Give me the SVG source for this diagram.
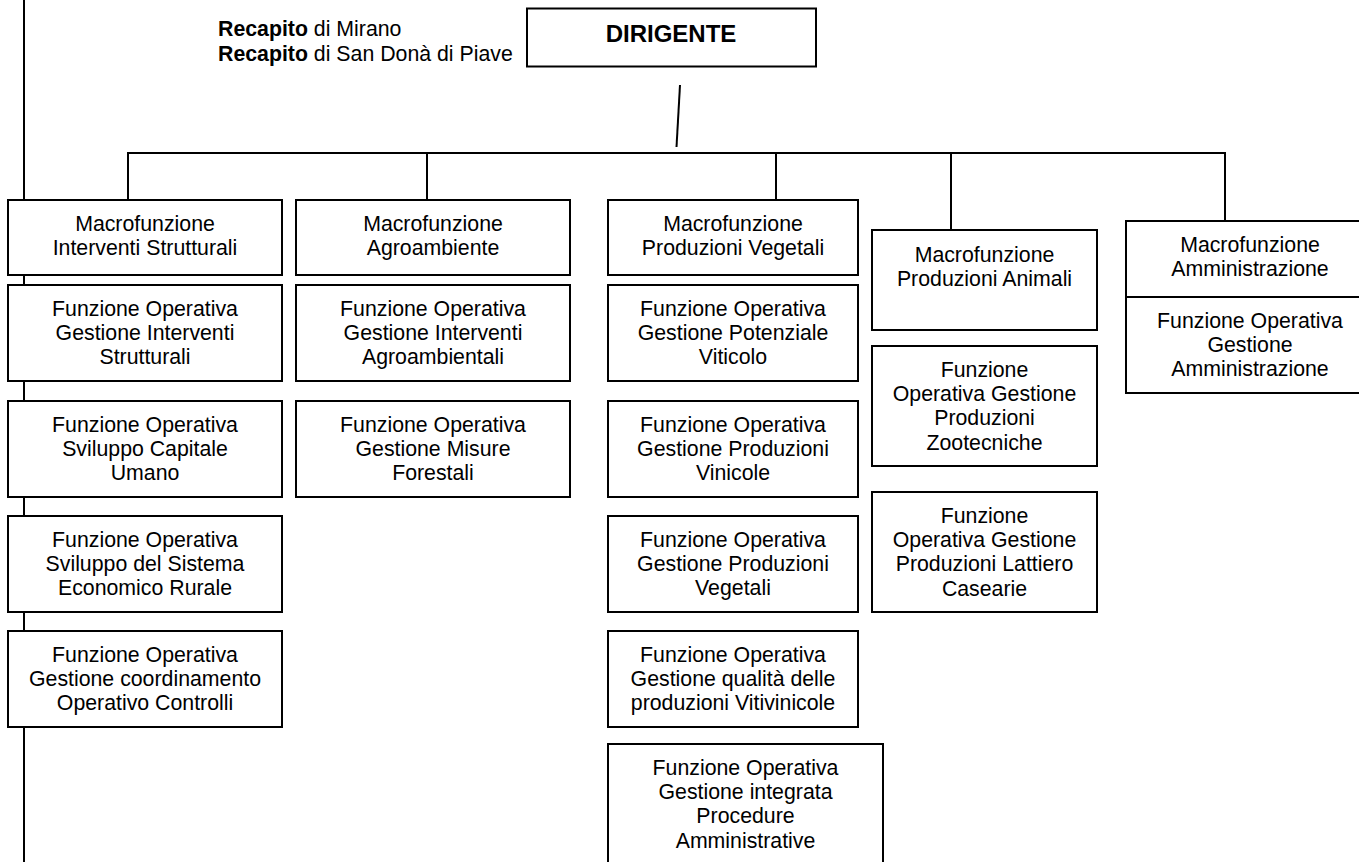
<svg xmlns="http://www.w3.org/2000/svg" width="1359" height="862" viewBox="0 0 1359 862">
  <style>
    .box { fill: #ffffff; stroke: #000000; stroke-width: 2; }
    .line { fill: none; stroke: #000000; stroke-width: 2; }
    .lbl { font-family: "Liberation Sans", Arial, sans-serif; font-size: 21.3px; fill: #000000; text-anchor: middle; }
    .title { font-family: "Liberation Sans", Arial, sans-serif; font-size: 24px; font-weight: bold; fill: #000000; text-anchor: middle; }
    .note { font-family: "Liberation Sans", Arial, sans-serif; font-size: 21.3px; fill: #000000; }
    .b { font-weight: bold; }
  </style>
  <rect x="0" y="0" width="1359" height="862" fill="#ffffff"/>

  <!-- connectors -->
  <g id="connectors">
    <line class="line" x1="24" y1="0" x2="24" y2="862"/>
    <line class="line" x1="680" y1="85" x2="676.5" y2="147" stroke-width="1.6"/>
    <line class="line" x1="127" y1="153" x2="1226" y2="153"/>
    <line class="line" x1="128" y1="153" x2="128" y2="200"/>
    <line class="line" x1="427" y1="153" x2="427" y2="200"/>
    <line class="line" x1="776" y1="153" x2="776" y2="200"/>
    <line class="line" x1="951" y1="153" x2="951" y2="230"/>
    <line class="line" x1="1225" y1="153" x2="1225" y2="221"/>
  </g>

  <!-- side note -->
  <g id="recapiti">
    <text class="note" x="218" y="35.5"><tspan class="b">Recapito</tspan> di Mirano</text>
    <text class="note" x="218" y="61"><tspan class="b">Recapito</tspan> di San Donà di Piave</text>
  </g>

  <!-- top -->
  <g id="dirigente">
    <rect class="box" x="527" y="8.5" width="289" height="58"/>
    <text class="title" x="671" y="41.5">DIRIGENTE</text>
  </g>

  <!-- column 1 -->
  <g id="macro-interventi">
    <rect class="box" x="8" y="200" width="274" height="75"/>
    <text class="lbl" x="145" y="230.5"><tspan x="145">Macrofunzione</tspan><tspan x="145" dy="24.4">Interventi Strutturali</tspan></text>
  </g>
  <g id="fo-gestione-interventi">
    <rect class="box" x="8" y="285" width="274" height="96"/>
    <text class="lbl" x="145" y="315.5"><tspan x="145">Funzione Operativa</tspan><tspan x="145" dy="24.4">Gestione Interventi</tspan><tspan x="145" dy="24.4">Strutturali</tspan></text>
  </g>
  <g id="fo-capitale-umano">
    <rect class="box" x="8" y="401" width="274" height="96"/>
    <text class="lbl" x="145" y="431.5"><tspan x="145">Funzione Operativa</tspan><tspan x="145" dy="24.4">Sviluppo Capitale</tspan><tspan x="145" dy="24.4">Umano</tspan></text>
  </g>
  <g id="fo-sistema-rurale">
    <rect class="box" x="8" y="516" width="274" height="96"/>
    <text class="lbl" x="145" y="546.5"><tspan x="145">Funzione Operativa</tspan><tspan x="145" dy="24.4">Sviluppo del Sistema</tspan><tspan x="145" dy="24.4">Economico Rurale</tspan></text>
  </g>
  <g id="fo-controlli">
    <rect class="box" x="8" y="631" width="274" height="96"/>
    <text class="lbl" x="145" y="661.5"><tspan x="145">Funzione Operativa</tspan><tspan x="145" dy="24.4">Gestione coordinamento</tspan><tspan x="145" dy="24.4">Operativo Controlli</tspan></text>
  </g>

  <!-- column 2 -->
  <g id="macro-agroambiente">
    <rect class="box" x="296" y="200" width="274" height="75"/>
    <text class="lbl" x="433" y="230.5"><tspan x="433">Macrofunzione</tspan><tspan x="433" dy="24.4">Agroambiente</tspan></text>
  </g>
  <g id="fo-agroambientali">
    <rect class="box" x="296" y="285" width="274" height="96"/>
    <text class="lbl" x="433" y="315.5"><tspan x="433">Funzione Operativa</tspan><tspan x="433" dy="24.4">Gestione Interventi</tspan><tspan x="433" dy="24.4">Agroambientali</tspan></text>
  </g>
  <g id="fo-forestali">
    <rect class="box" x="296" y="401" width="274" height="96"/>
    <text class="lbl" x="433" y="431.5"><tspan x="433">Funzione Operativa</tspan><tspan x="433" dy="24.4">Gestione Misure</tspan><tspan x="433" dy="24.4">Forestali</tspan></text>
  </g>

  <!-- column 3 -->
  <g id="macro-vegetali">
    <rect class="box" x="608" y="200" width="250" height="75"/>
    <text class="lbl" x="733" y="230.5"><tspan x="733">Macrofunzione</tspan><tspan x="733" dy="24.4">Produzioni Vegetali</tspan></text>
  </g>
  <g id="fo-potenziale-viticolo">
    <rect class="box" x="608" y="285" width="250" height="96"/>
    <text class="lbl" x="733" y="315.5"><tspan x="733">Funzione Operativa</tspan><tspan x="733" dy="24.4">Gestione Potenziale</tspan><tspan x="733" dy="24.4">Viticolo</tspan></text>
  </g>
  <g id="fo-vinicole">
    <rect class="box" x="608" y="401" width="250" height="96"/>
    <text class="lbl" x="733" y="431.5"><tspan x="733">Funzione Operativa</tspan><tspan x="733" dy="24.4">Gestione Produzioni</tspan><tspan x="733" dy="24.4">Vinicole</tspan></text>
  </g>
  <g id="fo-prod-vegetali">
    <rect class="box" x="608" y="516" width="250" height="96"/>
    <text class="lbl" x="733" y="546.5"><tspan x="733">Funzione Operativa</tspan><tspan x="733" dy="24.4">Gestione Produzioni</tspan><tspan x="733" dy="24.4">Vegetali</tspan></text>
  </g>
  <g id="fo-vitivinicole">
    <rect class="box" x="608" y="631" width="250" height="96"/>
    <text class="lbl" x="733" y="661.5"><tspan x="733">Funzione Operativa</tspan><tspan x="733" dy="24.4">Gestione qualità delle</tspan><tspan x="733" dy="24.4">produzioni Vitivinicole</tspan></text>
  </g>
  <g id="fo-procedure">
    <rect class="box" x="608" y="744" width="275" height="140"/>
    <text class="lbl" x="745.5" y="774.5"><tspan x="745.5">Funzione Operativa</tspan><tspan x="745.5" dy="24.4">Gestione integrata</tspan><tspan x="745.5" dy="24.4">Procedure</tspan><tspan x="745.5" dy="24.4">Amministrative</tspan></text>
  </g>

  <!-- column 4 -->
  <g id="macro-animali">
    <rect class="box" x="872" y="230" width="225" height="100"/>
    <text class="lbl" x="984.5" y="261.5"><tspan x="984.5">Macrofunzione</tspan><tspan x="984.5" dy="24.4">Produzioni Animali</tspan></text>
  </g>
  <g id="fo-zootecniche">
    <rect class="box" x="872" y="346" width="225" height="120"/>
    <text class="lbl" x="984.5" y="376.5"><tspan x="984.5">Funzione</tspan><tspan x="984.5" dy="24.4">Operativa Gestione</tspan><tspan x="984.5" dy="24.4">Produzioni</tspan><tspan x="984.5" dy="24.4">Zootecniche</tspan></text>
  </g>
  <g id="fo-lattiero-casearie">
    <rect class="box" x="872" y="492" width="225" height="120"/>
    <text class="lbl" x="984.5" y="522.5"><tspan x="984.5">Funzione</tspan><tspan x="984.5" dy="24.4">Operativa Gestione</tspan><tspan x="984.5" dy="24.4">Produzioni Lattiero</tspan><tspan x="984.5" dy="24.4">Casearie</tspan></text>
  </g>

  <!-- column 5 -->
  <g id="macro-amministrazione">
    <rect class="box" x="1126" y="221" width="250" height="172"/>
    <line class="line" x1="1126" y1="297" x2="1376" y2="297"/>
    <text class="lbl" x="1250" y="252"><tspan x="1250">Macrofunzione</tspan><tspan x="1250" dy="24.4">Amministrazione</tspan></text>
    <text class="lbl" x="1250" y="327.5"><tspan x="1250">Funzione Operativa</tspan><tspan x="1250" dy="24.4">Gestione</tspan><tspan x="1250" dy="24.4">Amministrazione</tspan></text>
  </g>
</svg>
